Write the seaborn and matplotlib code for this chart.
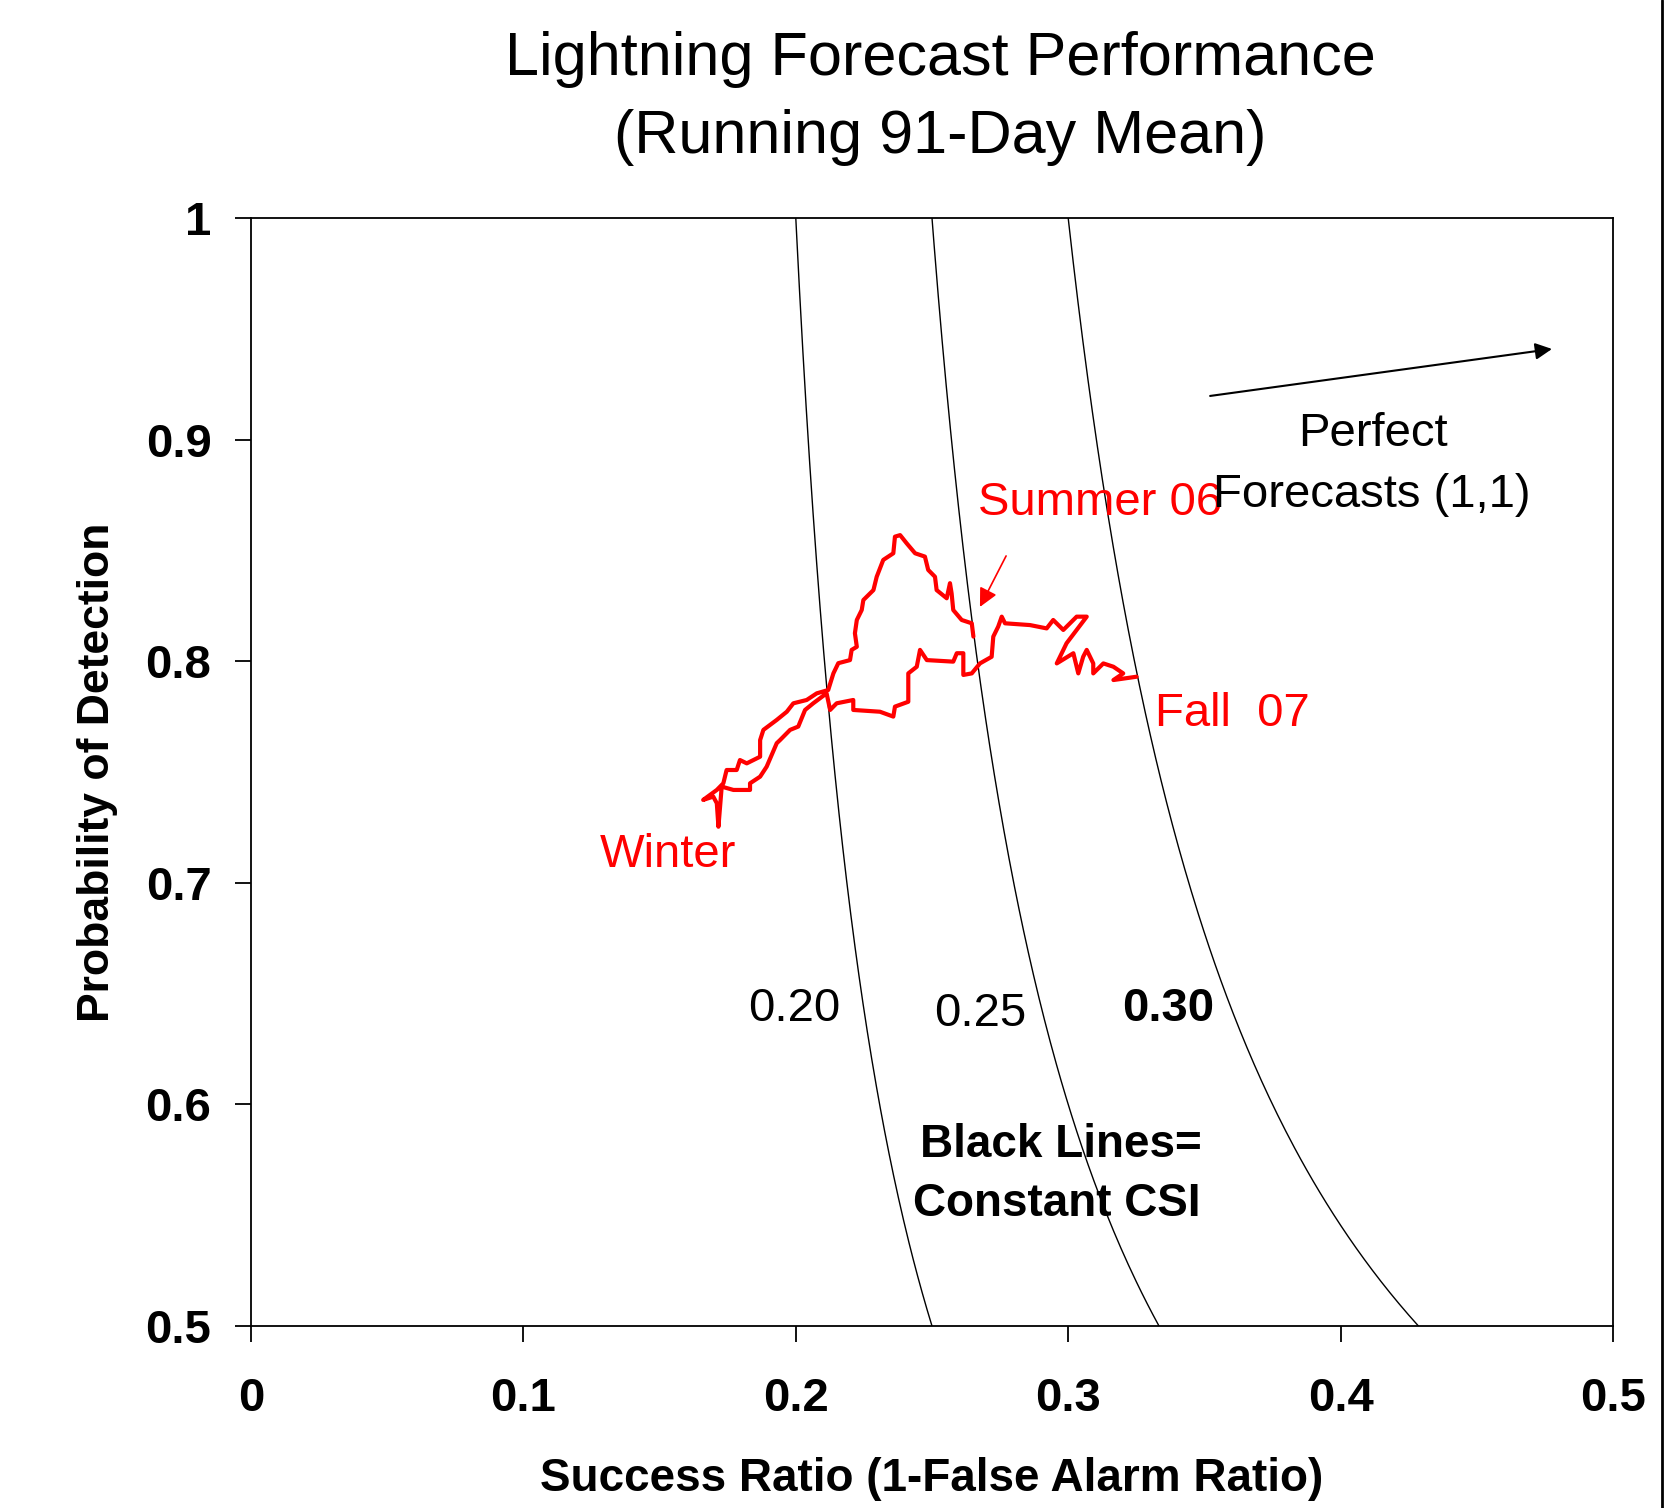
import numpy as np
import pandas as pd
import matplotlib
matplotlib.use("Agg")
import matplotlib.pyplot as plt
from matplotlib.lines import Line2D
import seaborn as sns

# ---- data -------------------------------------------------------------
# Running 91-day mean track (Summer 06 -> Winter -> Fall 07)
success_ratio = [
    0.2652, 0.2646, 0.2609, 0.2578, 0.2572, 0.2566, 0.2554, 0.2517, 0.2511, 0.2486,
    0.2474, 0.2438, 0.2407, 0.2383, 0.2364, 0.2358, 0.2321, 0.2297, 0.2285, 0.2248,
    0.2242, 0.2224, 0.2217, 0.2224, 0.2205, 0.2199, 0.2156, 0.2138, 0.2119, 0.2077,
    0.2040, 0.1991, 0.1967, 0.1930, 0.1881, 0.1869, 0.1869, 0.1820, 0.1795, 0.1783,
    0.1746, 0.1734, 0.1710, 0.1660, 0.1697, 0.1710, 0.1716, 0.1728, 0.1771, 0.1832,
    0.1832, 0.1869, 0.1893, 0.1930, 0.1942, 0.1979, 0.2009, 0.2034, 0.2064, 0.2113,
    0.2126, 0.2150, 0.2211, 0.2211, 0.2309, 0.2358, 0.2364, 0.2413, 0.2413, 0.2444,
    0.2456, 0.2481, 0.2578, 0.2591, 0.2615, 0.2615, 0.2646, 0.2676, 0.2719, 0.2725,
    0.2743, 0.2756, 0.2768, 0.2860, 0.2921, 0.2945, 0.2982, 0.3031, 0.3068, 0.2994,
    0.2958, 0.3019, 0.3037, 0.3055, 0.3068, 0.3092, 0.3092, 0.3129, 0.3166, 0.3202,
    0.3166, 0.3251,
]
prob_detection = [
    0.8111, 0.8171, 0.8186, 0.8231, 0.8306, 0.8352, 0.8284, 0.8321, 0.8381, 0.8412,
    0.8472, 0.8487, 0.8532, 0.8569, 0.8562, 0.8487, 0.8457, 0.8381, 0.8321, 0.8276,
    0.8231, 0.8186, 0.8126, 0.8065, 0.8051, 0.8005, 0.7991, 0.7945, 0.7870, 0.7855,
    0.7825, 0.7810, 0.7772, 0.7735, 0.7690, 0.7644, 0.7569, 0.7539, 0.7554, 0.7509,
    0.7509, 0.7449, 0.7419, 0.7374, 0.7389, 0.7359, 0.7253, 0.7434, 0.7419, 0.7419,
    0.7449, 0.7479, 0.7524, 0.7630, 0.7644, 0.7690, 0.7705, 0.7780, 0.7810, 0.7855,
    0.7780, 0.7810, 0.7825, 0.7780, 0.7772, 0.7750, 0.7795, 0.7817, 0.7945, 0.7975,
    0.8051, 0.8005, 0.7998, 0.8036, 0.8036, 0.7938, 0.7945, 0.7990, 0.8020, 0.8111,
    0.8156, 0.8201, 0.8171, 0.8163, 0.8148, 0.8186, 0.8141, 0.8201, 0.8201, 0.8081,
    0.7990, 0.8036, 0.7945, 0.8020, 0.8051, 0.7990, 0.7945, 0.7990, 0.7975, 0.7945,
    0.7915, 0.7930,
]

csi_levels = [0.20, 0.25, 0.30]
csi_labels = ["0.20", "0.25", "0.30"]
x_ticks = [0, 0.1, 0.2, 0.3, 0.4, 0.5]
x_tick_labels = ["0", "0.1", "0.2", "0.3", "0.4", "0.5"]
y_ticks = [0.5, 0.6, 0.7, 0.8, 0.9, 1.0]
y_tick_labels = ["0.5", "0.6", "0.7", "0.8", "0.9", "1"]

# ---- style -------------------------------------------------------------
sns.set_style("ticks")
plt.rcParams["font.family"] = ["Liberation Sans", "DejaVu Sans"]
plt.rcParams["text.color"] = "black"
plt.rcParams["axes.labelcolor"] = "black"
plt.rcParams["xtick.color"] = "black"
plt.rcParams["ytick.color"] = "black"

W, H = 1669, 1508
fig = plt.figure(figsize=(W / 100, H / 100), dpi=100)
fig.patch.set_facecolor("white")
ax = fig.add_axes([251 / W, 1 - 1326 / H, (1613 - 251) / W, (1326 - 218) / H])
ax.set_facecolor("white")

# constant-CSI isolines
pod_grid = np.linspace(0.5, 1.0, 200)
for c in csi_levels:
    sr_line = 1.0 / (1.0 / c - 1.0 / pod_grid + 1.0)
    sns.lineplot(x=sr_line, y=pod_grid, sort=False, estimator=None,
                 color="black", linewidth=1.0, ax=ax)

# red track
track = pd.DataFrame({"sr": success_ratio, "pod": prob_detection})
sns.lineplot(data=track, x="sr", y="pod", sort=False, estimator=None,
             color="#ff0000", linewidth=3.0, ax=ax)

ax.set_xlim(0, 0.5)
ax.set_ylim(0.5, 1.0)
ax.set_xticks(x_ticks)
ax.set_xticklabels(x_tick_labels)
ax.set_yticks(y_ticks)
ax.set_yticklabels(y_tick_labels)
ax.tick_params(axis="both", direction="out", length=11.5, width=1.3,
               color="black", labelcolor="black", labelsize=34)
ax.tick_params(axis="x", pad=25)
ax.tick_params(axis="y", pad=17)
for lab in ax.get_xticklabels() + ax.get_yticklabels():
    lab.set_fontweight("bold")
for s in ax.spines.values():
    s.set_visible(True)
    s.set_color("black")
    s.set_linewidth(1.3)

ax.set_xlabel("Success Ratio (1-False Alarm Ratio)", fontsize=33,
              fontweight="bold", labelpad=26, color="black")
ax.set_ylabel("Probability of Detection", fontsize=32, fontweight="bold",
              labelpad=20, color="black")

# title
fig.text(940 / W, 1 - 60 / H, "Lightning Forecast Performance", ha="center",
         va="center", fontsize=44, color="black")
fig.text(940 / W, 1 - 138 / H, "(Running 91-Day Mean)", ha="center",
         va="center", fontsize=44, color="black")

# annotations
ax.text(0.2668, 0.8713, "Summer 06", color="#ff0000", fontsize=34,
        ha="left", va="center")
ax.text(0.3318, 0.7760, "Fall  07", color="#ff0000", fontsize=34,
        ha="left", va="center")
ax.text(0.1530, 0.7124, "Winter", color="#ff0000", fontsize=34,
        ha="center", va="center")
ax.annotate("", xy=(0.2676, 0.8245), xytext=(0.2772, 0.8475),
            arrowprops=dict(arrowstyle="-|>", color="#ff0000", lw=1.2,
                            mutation_scale=28, shrinkA=0, shrinkB=0))
ax.annotate("", xy=(0.4776, 0.9409), xytext=(0.3521, 0.9197),
            arrowprops=dict(arrowstyle="-|>", color="black", lw=1.5,
                            mutation_scale=25, shrinkA=0, shrinkB=0))
ax.text(0.4119, 0.9024, "Perfect", fontsize=34, ha="center", va="center")
ax.text(0.4115, 0.8749, "Forecasts (1,1)", fontsize=34, ha="center",
        va="center")

label_pos = [(0.1993, 0.6430), (0.2676, 0.6408), (0.3366, 0.6430)]
for (lx, ly), txt, wt in zip(label_pos, csi_labels, ["normal", "normal", "bold"]):
    ax.text(lx, ly, txt, fontsize=34, ha="center", va="center", fontweight=wt)

ax.text(0.2973, 0.5815, "Black Lines=", fontsize=33, fontweight="bold",
        ha="center", va="center")
ax.text(0.2958, 0.5552, "Constant CSI", fontsize=33, fontweight="bold",
        ha="center", va="center")

# right edge frame line
fig.add_artist(Line2D([1662 / W, 1662 / W], [0, 1], color="black",
                      linewidth=2.0, transform=fig.transFigure))

fig.savefig("out.png", dpi=100, facecolor="white")
